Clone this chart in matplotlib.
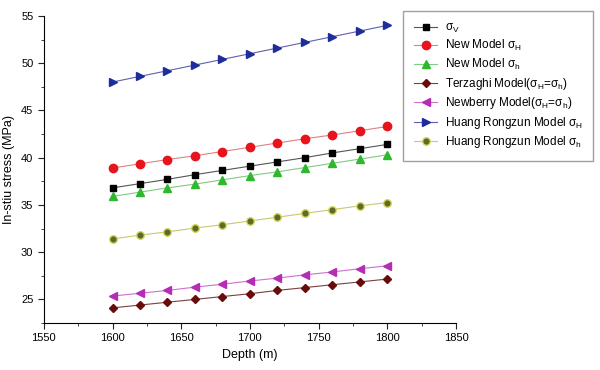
import numpy as np
import matplotlib.pyplot as plt

plt.rcParams['font.family'] = ['Liberation Sans', 'DejaVu Sans']
plt.rcParams['mathtext.fontset'] = 'custom'
plt.rcParams['mathtext.rm'] = 'Liberation Sans'
plt.rcParams['mathtext.it'] = 'Liberation Sans'

# Dati
depth = [1600, 1620, 1640, 1660, 1680, 1700, 1720, 1740, 1760, 1780, 1800]
sigma_v = [36.8, 37.25, 37.7, 38.2, 38.65, 39.1, 39.55, 40.0, 40.5, 40.95, 41.4]
new_H = [38.9, 39.35, 39.8, 40.2, 40.65, 41.1, 41.55, 42.0, 42.4, 42.85, 43.3]
new_h = [35.9, 36.35, 36.8, 37.2, 37.65, 38.1, 38.5, 38.95, 39.4, 39.85, 40.3]
terzaghi = [24.1, 24.4, 24.7, 25.0, 25.3, 25.6, 25.95, 26.25, 26.55, 26.85, 27.15]
newberry = [25.35, 25.65, 25.95, 26.3, 26.6, 26.95, 27.25, 27.6, 27.9, 28.25, 28.55]
huang_H = [48.0, 48.6, 49.2, 49.8, 50.4, 51.0, 51.6, 52.2, 52.8, 53.4, 54.0]
huang_h = [31.4, 31.8, 32.15, 32.55, 32.9, 33.3, 33.7, 34.1, 34.5, 34.9, 35.25]

fig = plt.figure(figsize=(6, 3.7), dpi=100)
ax = fig.add_axes([0.073, 0.127, 0.687, 0.83])

ax.plot(depth, sigma_v, color='#555555', lw=0.8, marker='s', ms=5, mfc='black', mec='black',
        label=r'$\sigma_{\mathregular{V}}$')
ax.plot(depth, new_H, color='#e08080', lw=0.8, marker='o', ms=6, mfc='#e8141c', mec='#e8141c',
        label=r'New Model $\sigma_{\mathregular{H}}$')
ax.plot(depth, new_h, color='#80cc80', lw=0.8, marker='^', ms=6, mfc='#2db82d', mec='#2db82d',
        label=r'New Model $\sigma_{\mathregular{h}}$')
ax.plot(depth, terzaghi, color='#7a4040', lw=0.8, marker='D', ms=4.5, mfc='#6b0a0a', mec='#6b0a0a',
        label=r'Terzaghi Model($\sigma_{\mathregular{H}}$=$\sigma_{\mathregular{h}}$)')
ax.plot(depth, newberry, color='#d070d0', lw=0.8, marker='<', ms=6, mfc='#b42db4', mec='#b42db4',
        label=r'Newberry Model($\sigma_{\mathregular{H}}$=$\sigma_{\mathregular{h}}$)')
ax.plot(depth, huang_H, color='#6060b0', lw=0.8, marker='>', ms=6, mfc='#1e2c9c', mec='#1e2c9c',
        label=r'Huang Rongzun Model $\sigma_{\mathregular{H}}$')
ax.plot(depth, huang_h, color='#c8c870', lw=0.8, marker='o', ms=5.5, mfc='#5e6b28', mec='#d8d860',
        label=r'Huang Rongzun Model $\sigma_{\mathregular{h}}$')

ax.set_xlim(1550, 1850)
ax.set_ylim(22.5, 55)
ax.set_xticks(np.arange(1550, 1851, 50))
ax.set_yticks(np.arange(25, 56, 5))
ax.set_xticks(np.arange(1550, 1851, 25), minor=True)
ax.set_yticks(np.arange(22.5, 55.1, 2.5), minor=True)
ax.tick_params(which='both', direction='out', labelsize=8, color='#222222')
ax.tick_params(which='major', length=4)
ax.tick_params(which='minor', length=2.5)
ax.spines['top'].set_visible(False)
ax.spines['right'].set_visible(False)
ax.set_xlabel('Depth (m)', fontsize=9)
ax.set_ylabel('In-stiu stress (MPa)', fontsize=9)

leg = fig.legend(loc='upper left', bbox_to_anchor=(0.672, 0.970), borderaxespad=0, fontsize=8.5,
                 fancybox=False, edgecolor='#888888', borderpad=0.9, labelspacing=0.3,
                 handlelength=2.0, handletextpad=0.6)
leg.get_frame().set_linewidth(1.0)

fig.savefig('out.png', dpi=100)
